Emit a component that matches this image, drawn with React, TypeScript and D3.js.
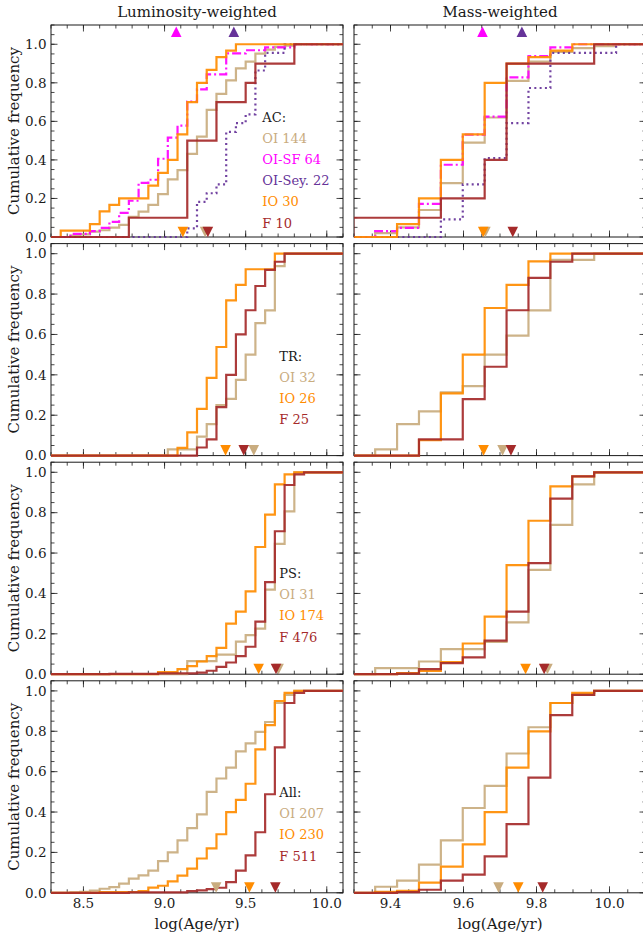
import React from 'react';
import * as d3 from 'd3';

// bin edges of the cumulative histograms (log age)
const lumEdges = [8.36, 8.42, 8.48, 8.54, 8.6, 8.66, 8.72, 8.78, 8.84, 8.9, 8.96, 9.02, 9.08, 9.14, 9.2, 9.26, 9.32, 9.38, 9.44, 9.5, 9.56, 9.62, 9.68, 9.74, 9.8, 9.86];
const massEdges = [9.298, 9.358, 9.418, 9.478, 9.538, 9.598, 9.658, 9.718, 9.778, 9.838, 9.898, 9.958, 10.018];

// AC, luminosity-weighted
const acLumOI = [0, 0.007, 0.014, 0.028, 0.035, 0.049, 0.063, 0.104, 0.132, 0.167, 0.222, 0.299, 0.347, 0.431, 0.521, 0.66, 0.743, 0.813, 0.875, 0.91, 0.951, 0.972, 0.986, 0.993, 1, 1];
const acLumSF = [0, 0.016, 0.016, 0.031, 0.047, 0.078, 0.125, 0.188, 0.281, 0.297, 0.406, 0.516, 0.578, 0.703, 0.766, 0.844, 0.844, 0.953, 0.953, 0.969, 0.969, 0.984, 0.984, 0.984, 1, 1];
const acLumSey = [0, 0, 0, 0, 0, 0, 0, 0, 0, 0, 0, 0, 0, 0.045, 0.182, 0.227, 0.273, 0.545, 0.591, 0.636, 0.864, 0.955, 0.955, 1, 1, 1];
const acLumIO = [0.033, 0.033, 0.033, 0.067, 0.133, 0.167, 0.2, 0.2, 0.2, 0.267, 0.333, 0.4, 0.533, 0.7, 0.8, 0.867, 0.933, 0.967, 1, 1, 1, 1, 1, 1, 1, 1];
const acLumF = [0, 0, 0, 0, 0, 0, 0, 0.1, 0.1, 0.1, 0.1, 0.1, 0.1, 0.5, 0.5, 0.5, 0.7, 0.7, 0.7, 0.8, 0.9, 0.9, 0.9, 0.9, 1, 1];
// AC, mass-weighted
const acMassOI = [0, 0.02, 0.05, 0.14, 0.28, 0.49, 0.62, 0.81, 0.91, 0.96, 0.98, 0.99, 1];
const acMassSF = [0, 0.031, 0.047, 0.172, 0.375, 0.531, 0.625, 0.828, 0.938, 0.984, 1, 1, 1];
const acMassSey = [0, 0, 0, 0, 0.091, 0.273, 0.409, 0.591, 0.773, 0.955, 0.955, 0.955, 1];
const acMassIO = [0, 0, 0.067, 0.2, 0.4, 0.533, 0.8, 0.9, 0.933, 0.967, 1, 1, 1];
const acMassF = [0.1, 0.1, 0.1, 0.1, 0.2, 0.2, 0.4, 0.9, 0.9, 0.9, 0.9, 1, 1];

// TR
const trLumOI = [0, 0, 0, 0, 0, 0, 0, 0, 0, 0, 0, 0.031, 0.031, 0.031, 0.094, 0.156, 0.25, 0.281, 0.375, 0.5, 0.656, 0.719, 0.938, 1, 1, 1];
const trLumIO = [0, 0, 0, 0, 0, 0, 0, 0, 0, 0, 0, 0, 0.038, 0.115, 0.231, 0.385, 0.538, 0.769, 0.846, 0.923, 0.923, 0.923, 1, 1, 1, 1];
const trLumF = [0, 0, 0, 0, 0, 0, 0, 0, 0, 0, 0, 0, 0, 0, 0.04, 0.08, 0.24, 0.4, 0.6, 0.72, 0.84, 0.92, 0.96, 1, 1, 1];
const trMassOI = [0, 0.031, 0.156, 0.219, 0.313, 0.344, 0.5, 0.594, 0.719, 0.969, 0.969, 1, 1];
const trMassIO = [0, 0, 0, 0.077, 0.308, 0.5, 0.731, 0.846, 0.962, 1, 1, 1, 1];
const trMassF = [0, 0, 0, 0.08, 0.08, 0.28, 0.44, 0.72, 0.88, 0.96, 1, 1, 1];

// PS
const psLumOI = [0, 0, 0, 0, 0, 0, 0, 0, 0, 0, 0, 0, 0, 0.065, 0.065, 0.065, 0.097, 0.097, 0.161, 0.194, 0.226, 0.419, 0.645, 0.806, 1, 1];
const psLumIO = [0, 0, 0, 0, 0, 0, 0, 0, 0, 0, 0.011, 0.011, 0.025, 0.04, 0.063, 0.09, 0.13, 0.25, 0.31, 0.41, 0.63, 0.79, 0.94, 0.99, 1, 1];
const psLumF = [0, 0, 0, 0, 0, 0.002, 0.002, 0.002, 0.002, 0.002, 0.004, 0.004, 0.004, 0.004, 0.008, 0.017, 0.036, 0.058, 0.09, 0.136, 0.26, 0.456, 0.708, 0.937, 0.99, 1];
const psMassOI = [0, 0.03, 0.03, 0.063, 0.124, 0.124, 0.16, 0.257, 0.517, 0.74, 0.94, 1, 1];
const psMassIO = [0, 0, 0.005, 0.016, 0.06, 0.152, 0.285, 0.54, 0.76, 0.93, 0.98, 1, 1];
const psMassF = [0, 0, 0.003, 0.025, 0.055, 0.083, 0.166, 0.31, 0.55, 0.87, 0.98, 1, 1];

// All
const allLumOI = [0, 0.002, 0.005, 0.011, 0.02, 0.028, 0.045, 0.07, 0.086, 0.11, 0.157, 0.2, 0.26, 0.32, 0.388, 0.5, 0.566, 0.62, 0.7, 0.74, 0.797, 0.846, 0.94, 0.98, 1, 1];
const allLumIO = [0, 0, 0, 0, 0.004, 0.004, 0.004, 0.004, 0.009, 0.026, 0.035, 0.057, 0.085, 0.12, 0.17, 0.22, 0.29, 0.4, 0.46, 0.54, 0.71, 0.83, 0.95, 0.99, 1, 1];
const allLumF = [0, 0, 0, 0, 0, 0, 0, 0.002, 0.002, 0.002, 0.002, 0.002, 0.002, 0.008, 0.012, 0.018, 0.025, 0.053, 0.11, 0.185, 0.3, 0.488, 0.72, 0.94, 0.99, 1];
const allMassOI = [0, 0.03, 0.06, 0.14, 0.26, 0.42, 0.53, 0.69, 0.82, 0.94, 0.98, 1, 1];
const allMassIO = [0, 0.005, 0.01, 0.05, 0.13, 0.24, 0.4, 0.62, 0.8, 0.94, 0.99, 1, 1];
const allMassF = [0, 0, 0.003, 0.015, 0.06, 0.09, 0.18, 0.34, 0.57, 0.88, 0.98, 1, 1];

// medians (triangles), same order as the series keys of each row
const acLumMedians = [9.25, 9.072, 9.427, 9.113, 9.267];
const acMassMedians = [9.66, 9.652, 9.76, 9.654, 9.735];
const trLumMedians = [9.55, 9.376, 9.488];
const trMassMedians = [9.707, 9.655, 9.73];
const psLumMedians = [9.703, 9.58, 9.687];
const psMassMedians = [9.83, 9.77, 9.821];
const allLumMedians = [9.318, 9.523, 9.683];
const allMassMedians = [9.696, 9.75, 9.817];

// legends
const rowTitles = ['AC:', 'TR:', 'PS:', 'All:'];
const acLabels = ['OI 144', 'OI-SF 64', 'OI-Sey. 22', 'IO 30', 'F 10'];
const trLabels = ['OI 32', 'IO 26', 'F 25'];
const psLabels = ['OI 31', 'IO 174', 'F 476'];
const allLabels = ['OI 207', 'IO 230', 'F 511'];

const colTitles = ['Luminosity-weighted', 'Mass-weighted'];
const lumTicks = [8.5, 9.0, 9.5, 10.0];
const massTicks = [9.4, 9.6, 9.8, 10.0];
const yTicks = [0, 0.2, 0.4, 0.6, 0.8, 1.0];

const FONT = '"DejaVu Serif", serif';
const INK = '#1a1a1a';
const styles: Record<string, { color: string; dash?: string; top?: boolean }> = {
  OI: { color: '#c9ac7f' },
  SF: { color: '#ff00ff', dash: '9 3 2 3', top: true },
  Sey: { color: '#663399', dash: '2 3.3', top: true },
  IO: { color: '#ff8c00' },
  F: { color: '#a52a2a' }
};

// layout
const colX: [number, number][] = [[51, 343], [354, 646]];
const colDomain: [number, number][] = [[8.3, 10.1], [9.3, 10.1]];
const colMinor = [0.1, 0.05];
const rowTop = [25, 243.6, 462.2, 680.8];
const panelH = 212;
const rowYMax = [1.1, 1.05, 1.05, 1.05];
const legendX = [262.3, 279.3, 279.3, 279.3];
const legendY = [121.5, 360.8, 578, 797];
const legendStep = 21.2;

interface Row {
  keys: string[];
  lum: number[][];
  mass: number[][];
  lumMed: number[];
  massMed: number[];
  labels: string[];
}

const rows: Row[] = [
  { keys: ['OI', 'SF', 'Sey', 'IO', 'F'], lum: [acLumOI, acLumSF, acLumSey, acLumIO, acLumF], mass: [acMassOI, acMassSF, acMassSey, acMassIO, acMassF], lumMed: acLumMedians, massMed: acMassMedians, labels: acLabels },
  { keys: ['OI', 'IO', 'F'], lum: [trLumOI, trLumIO, trLumF], mass: [trMassOI, trMassIO, trMassF], lumMed: trLumMedians, massMed: trMassMedians, labels: trLabels },
  { keys: ['OI', 'IO', 'F'], lum: [psLumOI, psLumIO, psLumF], mass: [psMassOI, psMassIO, psMassF], lumMed: psLumMedians, massMed: psMassMedians, labels: psLabels },
  { keys: ['OI', 'IO', 'F'], lum: [allLumOI, allLumIO, allLumF], mass: [allMassOI, allMassIO, allMassF], lumMed: allLumMedians, massMed: allMassMedians, labels: allLabels }
];

const Panel = ({ r, c }: { r: number; c: number }) => {
  const row = rows[r];
  const [x0, x1] = colX[c];
  const top = rowTop[r];
  const bottom = top + panelH;
  const x = d3.scaleLinear().domain(colDomain[c]).range([x0, x1]);
  const y = d3.scaleLinear().domain([0, rowYMax[r]]).range([bottom, top]);
  const edges = c === 0 ? lumEdges : massEdges;
  const series = c === 0 ? row.lum : row.mass;
  const medians = c === 0 ? row.lumMed : row.massMed;
  const line = d3
    .line<[number, number]>()
    .x((d) => x(d[0]))
    .y((d) => y(d[1]))
    .curve(d3.curveStepAfter);
  const [d0, d1] = colDomain[c];
  const majorX = c === 0 ? lumTicks : massTicks;
  const minorX = d3.range(Math.round(d0 / colMinor[c]), Math.round(d1 / colMinor[c]) + 1).map((k) => k * colMinor[c]);
  const minorY = d3.range(0, Math.round(rowYMax[r] / 0.05) + 1).map((k) => k * 0.05);
  const clipId = `clip-${r}-${c}`;
  const h = 5.3;

  return (
    <g>
      <defs>
        <clipPath id={clipId}>
          <rect x={x0} y={top - 12} width={x1 - x0} height={panelH + 15} />
        </clipPath>
      </defs>
      {/* ticks, all four sides, inward */}
      <g stroke={INK} strokeWidth={0.8}>
        {minorX.map((v, i) => (
          <g key={'mx' + i}>
            <line x1={x(v)} x2={x(v)} y1={bottom} y2={bottom - 3.5} />
            <line x1={x(v)} x2={x(v)} y1={top} y2={top + 3.5} />
          </g>
        ))}
        {majorX.map((v, i) => (
          <g key={'Mx' + i}>
            <line x1={x(v)} x2={x(v)} y1={bottom} y2={bottom - 6.5} />
            <line x1={x(v)} x2={x(v)} y1={top} y2={top + 6.5} />
          </g>
        ))}
        {minorY.map((v, i) => (
          <g key={'my' + i}>
            <line x1={x0} x2={x0 + 3.5} y1={y(v)} y2={y(v)} />
            <line x1={x1} x2={x1 - 3.5} y1={y(v)} y2={y(v)} />
          </g>
        ))}
        {yTicks.map((v, i) => (
          <g key={'My' + i}>
            <line x1={x0} x2={x0 + 6.5} y1={y(v)} y2={y(v)} />
            <line x1={x1} x2={x1 - 6.5} y1={y(v)} y2={y(v)} />
          </g>
        ))}
      </g>
      <rect x={x0} y={top} width={x1 - x0} height={panelH} fill="none" stroke={INK} strokeWidth={1} />

      <g clipPath={`url(#${clipId})`}>
        {series.map((vals, i) => {
          const st = styles[row.keys[i]];
          const pts: [number, number][] = [[d0 - 1, 0], ...edges.map((e, j) => [e, vals[j]] as [number, number]), [d1 + 1, vals[vals.length - 1]]];
          return (
            <path
              key={'s' + i}
              d={line(pts) || ''}
              fill="none"
              stroke={st.color}
              strokeWidth={2.2}
              strokeOpacity={0.92}
              strokeDasharray={st.dash}
              strokeLinejoin="miter"
            />
          );
        })}
        {medians.map((m, i) => {
          const st = styles[row.keys[i]];
          const cx = x(m);
          if (st.top) {
            const cy = y(1.065);
            return <path key={'m' + i} d={`M${cx},${cy - h}L${cx + h},${cy + h}L${cx - h},${cy + h}Z`} fill={st.color} />;
          }
          const cy = y(0.026);
          return <path key={'m' + i} d={`M${cx},${cy + h}L${cx + h},${cy - h}L${cx - h},${cy - h}Z`} fill={st.color} />;
        })}
      </g>

      {c === 0 && (
        <g fontFamily={FONT} fontSize={13.5} fill={INK}>
          {yTicks.map((v, i) => (
            <text key={'yl' + i} x={x0 - 4.5} y={y(v) + 4.8} textAnchor="end">
              {v.toFixed(1)}
            </text>
          ))}
          <text transform={`translate(18.5,${top + panelH / 2}) rotate(-90)`} textAnchor="middle" fontSize={15}>
            Cumulative frequency
          </text>
          <g fontSize={13}>
            <text x={legendX[r]} y={legendY[r]} fill={INK}>
              {rowTitles[r]}
            </text>
            {row.labels.map((lab, i) => (
              <text key={'lg' + i} x={legendX[r]} y={legendY[r] + legendStep * (i + 1)} fill={styles[row.keys[i]].color}>
                {lab}
              </text>
            ))}
          </g>
        </g>
      )}
      {r === 3 && (
        <g fontFamily={FONT} fontSize={13.5} fill={INK}>
          {majorX.map((v, i) => (
            <text key={'xl' + i} x={x(v)} y={bottom + 15.5} textAnchor="middle">
              {v.toFixed(1)}
            </text>
          ))}
          <text x={(x0 + x1) / 2} y={929} textAnchor="middle" fontSize={15}>
            log(Age/yr)
          </text>
        </g>
      )}
      {r === 0 && (
        <text x={(x0 + x1) / 2} y={16.7} textAnchor="middle" fontFamily={FONT} fontSize={15} fill={INK}>
          {colTitles[c]}
        </text>
      )}
    </g>
  );
};

export default function App() {
  return (
    <svg width={643} height={936} style={{ position: 'absolute', left: 0, top: 0, background: '#fff' }}>
      <rect width={643} height={936} fill="#fff" />
      {rows.map((_, r) => [0, 1].map((c) => <Panel key={`${r}-${c}`} r={r} c={c} />))}
    </svg>
  );
}
